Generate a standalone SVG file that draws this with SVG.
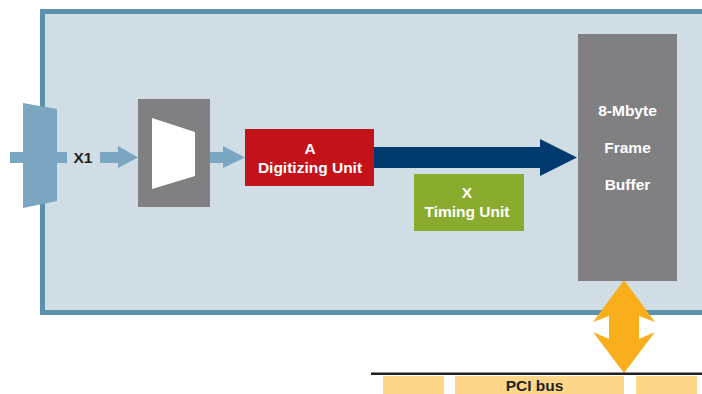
<svg xmlns="http://www.w3.org/2000/svg" width="702" height="394" viewBox="0 0 702 394">
<style>
.t{font-family:"Liberation Sans",Arial,sans-serif;font-weight:bold;font-size:15.5px;text-anchor:middle}
.w{fill:#ffffff}
.k{fill:#231f20}
.lb{fill:#7ba6c1}
</style>
<rect width="702" height="394" fill="#ffffff"/>
<g id="panel">
<rect x="42.5" y="11.5" width="700" height="301" fill="#d0dde5" stroke="#5a91ab" stroke-width="5"/>
</g>
<g id="connectors">
<rect class="lb" x="10" y="152" width="57" height="11"/>
<polygon class="lb" points="100,152 118,152 118,146 138,157.5 118,168 118,163 100,163"/>
<polygon class="lb" points="210,152 223,152 223,146 245,157.5 223,168 223,163 210,163"/>
<polygon fill="#003a6e" points="374,147 540,147 540,139 577,157.5 540,176 540,168 374,168"/>
<polygon fill="#f9ae1b" points="624,280 593,322 609,316 609,339 593,332 624,373 655,332 639,339 639,316 655,322"/>
</g>
<g id="input">
<polygon class="lb" points="23,103 57,109 57,201 23,208"/>
<text class="t k" x="83" y="163">X1</text>
</g>
<g id="amplifier">
<rect x="138" y="99" width="72" height="108" fill="#808083"/>
<polygon class="w" points="152,118 195,132 195,176 152,189"/>
</g>
<g id="digitizer">
<rect x="245" y="129" width="129" height="57" fill="#c4121b"/>
<text class="t w" x="310" y="154">A</text>
<text class="t w" x="310" y="173">Digitizing Unit</text>
</g>
<g id="timing">
<rect x="414" y="174" width="110" height="57" fill="#8aac2e"/>
<text class="t w" x="467" y="198">X</text>
<text class="t w" x="467" y="217">Timing Unit</text>
</g>
<g id="buffer">
<rect x="578" y="34" width="99" height="247" fill="#808083"/>
<text class="t w" x="627.5" y="116">8-Mbyte</text>
<text class="t w" x="627.5" y="152.5">Frame</text>
<text class="t w" x="627.5" y="190">Buffer</text>
</g>
<g id="pcibus">
<rect x="371" y="372.5" width="331" height="2.5" fill="#231f20"/>
<rect x="383" y="376" width="61" height="18" fill="#fdd68a"/>
<rect x="455" y="376" width="169" height="18" fill="#fdd68a"/>
<rect x="636" y="376" width="61" height="18" fill="#fdd68a"/>
<text class="t k" x="534.5" y="391" font-size="15px">PCI bus</text>
</g>
</svg>
